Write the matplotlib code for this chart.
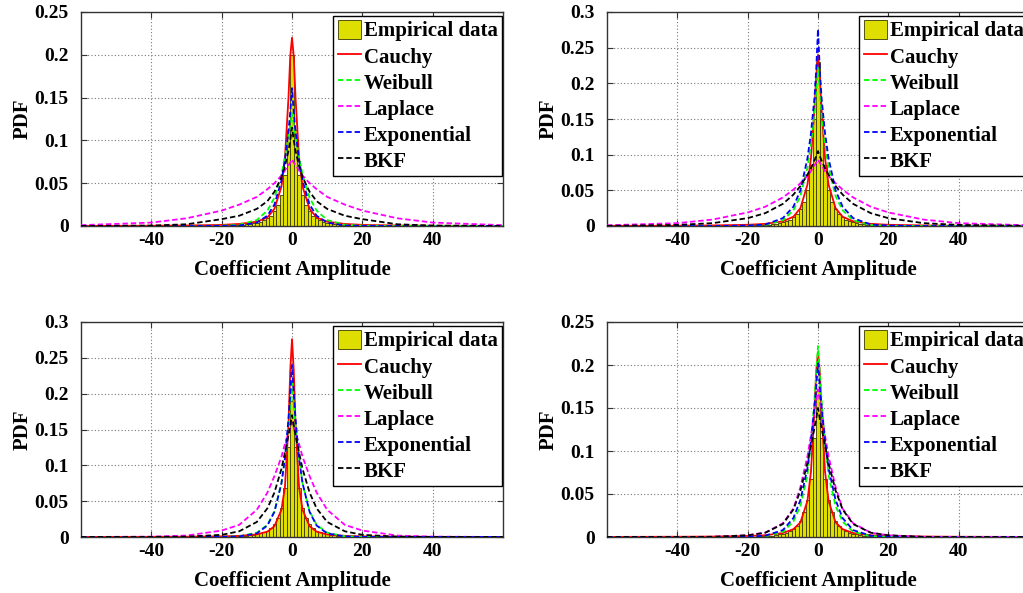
import matplotlib
matplotlib.use("Agg")
import matplotlib.pyplot as plt

plt.rcParams['font.family'] = ['Liberation Serif', 'DejaVu Serif']
plt.rcParams['font.weight'] = 'bold'
plt.rcParams['axes.unicode_minus'] = False

# ---------------- data ----------------
X = [-60, -40, -30, -20, -15, -10, -7, -5, -3, -2, -1, -0.5, 0,
     0.5, 1, 2, 3, 5, 7, 10, 15, 20, 30, 40, 60]
HIST_X = [-20, -19, -18, -17, -16, -15, -14, -13, -12, -11, -10, -9, -8, -7, -6, -5, -4, -3, -2, -1, 0,
          1, 2, 3, 4, 5, 6, 7, 8, 9, 10, 11, 12, 13, 14, 15, 16, 17, 18, 19, 20]

# top-left panel
tl_hist = [0.0005, 0.0006, 0.0007, 0.0008, 0.001, 0.0012, 0.0015, 0.002, 0.0025, 0.003, 0.004, 0.005, 0.007, 0.009, 0.012, 0.017, 0.024, 0.036, 0.060, 0.112, 0.200,
           0.112, 0.060, 0.036, 0.024, 0.017, 0.012, 0.009, 0.007, 0.005, 0.004, 0.003, 0.0025, 0.002, 0.0015, 0.0012, 0.001, 0.0008, 0.0007, 0.0006, 0.0005]
tl_cauchy = [0.0001, 0.0003, 0.0006, 0.0013, 0.0024, 0.005, 0.010, 0.020, 0.046, 0.080, 0.150, 0.198, 0.220,
             0.198, 0.150, 0.080, 0.046, 0.020, 0.010, 0.005, 0.0024, 0.0013, 0.0006, 0.0003, 0.0001]
tl_weibull = [0.0, 0.0, 0.0001, 0.0004, 0.0015, 0.007, 0.018, 0.033, 0.060, 0.081, 0.104, 0.118, 0.132,
              0.118, 0.104, 0.081, 0.060, 0.033, 0.018, 0.007, 0.0015, 0.0004, 0.0001, 0.0, 0.0]
tl_laplace = [0.001, 0.004, 0.009, 0.018, 0.025, 0.034, 0.043, 0.050, 0.059, 0.065, 0.071, 0.074, 0.078,
              0.074, 0.071, 0.065, 0.059, 0.050, 0.043, 0.034, 0.025, 0.018, 0.009, 0.004, 0.001]
tl_expo = [0.0, 0.0, 0.0, 0.0001, 0.0006, 0.004, 0.012, 0.025, 0.053, 0.077, 0.111, 0.133, 0.161,
           0.133, 0.111, 0.077, 0.053, 0.025, 0.012, 0.004, 0.0006, 0.0001, 0.0, 0.0, 0.0]
tl_bkf = [0.0, 0.0005, 0.002, 0.008, 0.012, 0.020, 0.029, 0.040, 0.057, 0.070, 0.088, 0.100, 0.115,
          0.100, 0.088, 0.070, 0.057, 0.040, 0.029, 0.020, 0.012, 0.008, 0.002, 0.0005, 0.0]

# top-right panel
tr_hist = [0.0005, 0.0006, 0.0008, 0.001, 0.0012, 0.0015, 0.002, 0.0025, 0.003, 0.004, 0.005, 0.007, 0.009, 0.012, 0.017, 0.024, 0.034, 0.050, 0.085, 0.150, 0.230,
           0.150, 0.085, 0.050, 0.034, 0.024, 0.017, 0.012, 0.009, 0.007, 0.005, 0.004, 0.003, 0.0025, 0.002, 0.0015, 0.0012, 0.001, 0.0008, 0.0006, 0.0005]
tr_cauchy = [0.0002, 0.0004, 0.0008, 0.0017, 0.003, 0.0065, 0.013, 0.025, 0.058, 0.095, 0.165, 0.210, 0.240,
             0.210, 0.165, 0.095, 0.058, 0.025, 0.013, 0.0065, 0.003, 0.0017, 0.0008, 0.0004, 0.0002]
tr_weibull = [0.0, 0.0, 0.0001, 0.0003, 0.0015, 0.008, 0.022, 0.042, 0.082, 0.115, 0.160, 0.190, 0.222,
              0.190, 0.160, 0.115, 0.082, 0.042, 0.022, 0.008, 0.0015, 0.0003, 0.0001, 0.0, 0.0]
tr_laplace = [0.001, 0.004, 0.009, 0.019, 0.027, 0.040, 0.051, 0.060, 0.070, 0.077, 0.085, 0.089, 0.093,
              0.089, 0.085, 0.077, 0.070, 0.060, 0.051, 0.040, 0.027, 0.019, 0.009, 0.004, 0.001]
tr_expo = [0.0, 0.0, 0.0, 0.0005, 0.002, 0.011, 0.027, 0.050, 0.095, 0.130, 0.180, 0.220, 0.276,
           0.220, 0.180, 0.130, 0.095, 0.050, 0.027, 0.011, 0.002, 0.0005, 0.0, 0.0, 0.0]
tr_bkf = [0.0002, 0.0015, 0.004, 0.011, 0.018, 0.031, 0.044, 0.056, 0.072, 0.081, 0.092, 0.098, 0.105,
          0.098, 0.092, 0.081, 0.072, 0.056, 0.044, 0.031, 0.018, 0.011, 0.004, 0.0015, 0.0002]

# bottom-left panel
bl_hist = [0.0004, 0.0005, 0.0006, 0.0008, 0.001, 0.0012, 0.0015, 0.002, 0.0025, 0.003, 0.004, 0.005, 0.007, 0.009, 0.013, 0.018, 0.026, 0.040, 0.068, 0.125, 0.190,
           0.125, 0.068, 0.040, 0.026, 0.018, 0.013, 0.009, 0.007, 0.005, 0.004, 0.003, 0.0025, 0.002, 0.0015, 0.0012, 0.001, 0.0008, 0.0006, 0.0005, 0.0004]
bl_cauchy = [0.0001, 0.0002, 0.0004, 0.0009, 0.0016, 0.0036, 0.0075, 0.015, 0.038, 0.070, 0.157, 0.232, 0.276,
             0.232, 0.157, 0.070, 0.038, 0.015, 0.0075, 0.0036, 0.0016, 0.0009, 0.0004, 0.0002, 0.0001]
bl_weibull = [0.0, 0.0, 0.0, 0.0002, 0.001, 0.006, 0.017, 0.036, 0.075, 0.110, 0.155, 0.185, 0.215,
              0.185, 0.155, 0.110, 0.075, 0.036, 0.017, 0.006, 0.001, 0.0002, 0.0, 0.0, 0.0]
bl_laplace = [0.0, 0.0005, 0.002, 0.009, 0.017, 0.038, 0.062, 0.085, 0.112, 0.130, 0.145, 0.152, 0.160,
              0.152, 0.145, 0.130, 0.112, 0.085, 0.062, 0.038, 0.017, 0.009, 0.002, 0.0005, 0.0]
bl_expo = [0.0, 0.0, 0.0, 0.0001, 0.0008, 0.005, 0.016, 0.035, 0.075, 0.110, 0.165, 0.200, 0.240,
           0.200, 0.165, 0.110, 0.075, 0.035, 0.016, 0.005, 0.0008, 0.0001, 0.0, 0.0, 0.0]
bl_bkf = [0.0, 0.0001, 0.0005, 0.003, 0.008, 0.021, 0.040, 0.062, 0.095, 0.118, 0.142, 0.155, 0.170,
          0.155, 0.142, 0.118, 0.095, 0.062, 0.040, 0.021, 0.008, 0.003, 0.0005, 0.0001, 0.0]

# bottom-right panel
br_hist = [0.0003, 0.0004, 0.0005, 0.0006, 0.0008, 0.001, 0.0013, 0.0017, 0.0022, 0.003, 0.004, 0.005, 0.007, 0.009, 0.013, 0.019, 0.029, 0.043, 0.068, 0.115, 0.170,
           0.115, 0.068, 0.043, 0.029, 0.019, 0.013, 0.009, 0.007, 0.005, 0.004, 0.003, 0.0022, 0.0017, 0.0013, 0.001, 0.0008, 0.0006, 0.0005, 0.0004, 0.0003]
br_cauchy = [0.0001, 0.0003, 0.0005, 0.0012, 0.002, 0.0046, 0.0091, 0.017, 0.042, 0.076, 0.148, 0.193, 0.215,
             0.193, 0.148, 0.076, 0.042, 0.017, 0.0091, 0.0046, 0.002, 0.0012, 0.0005, 0.0003, 0.0001]
br_weibull = [0.0, 0.0, 0.0, 0.0002, 0.001, 0.006, 0.018, 0.036, 0.072, 0.110, 0.160, 0.190, 0.222,
              0.190, 0.160, 0.110, 0.072, 0.036, 0.018, 0.006, 0.001, 0.0002, 0.0, 0.0, 0.0]
br_laplace = [0.0, 0.0, 0.0002, 0.002, 0.005, 0.016, 0.033, 0.058, 0.094, 0.118, 0.145, 0.158, 0.172,
              0.158, 0.145, 0.118, 0.094, 0.058, 0.033, 0.016, 0.005, 0.002, 0.0002, 0.0, 0.0]
br_expo = [0.0, 0.0, 0.0, 0.0003, 0.0015, 0.008, 0.022, 0.043, 0.080, 0.112, 0.152, 0.175, 0.202,
           0.175, 0.152, 0.112, 0.080, 0.043, 0.022, 0.008, 0.0015, 0.0003, 0.0, 0.0, 0.0]
br_bkf = [0.0, 0.0, 0.0002, 0.002, 0.005, 0.015, 0.032, 0.054, 0.086, 0.106, 0.127, 0.138, 0.150,
          0.138, 0.127, 0.106, 0.086, 0.054, 0.032, 0.015, 0.005, 0.002, 0.0002, 0.0, 0.0]

X_TICKS = [-40, -20, 0, 20, 40]
TL_YTICKS = [0, 0.05, 0.1, 0.15, 0.2, 0.25]
TR_YTICKS = [0, 0.05, 0.1, 0.15, 0.2, 0.25, 0.3]
LABELS = ['Empirical data', 'Cauchy', 'Weibull', 'Laplace', 'Exponential', 'BKF']

panels = [
    dict(rect=(81, 12, 422, 214), hist=tl_hist, curves=[tl_cauchy, tl_weibull, tl_laplace, tl_expo, tl_bkf], ymax=0.25, yticks=TL_YTICKS),
    dict(rect=(607, 12, 422, 214), hist=tr_hist, curves=[tr_cauchy, tr_weibull, tr_laplace, tr_expo, tr_bkf], ymax=0.3, yticks=TR_YTICKS),
    dict(rect=(81, 322, 422, 215), hist=bl_hist, curves=[bl_cauchy, bl_weibull, bl_laplace, bl_expo, bl_bkf], ymax=0.3, yticks=TR_YTICKS),
    dict(rect=(607, 322, 422, 215), hist=br_hist, curves=[br_cauchy, br_weibull, br_laplace, br_expo, br_bkf], ymax=0.25, yticks=TL_YTICKS),
]

W, H = 1023, 593
fig = plt.figure(figsize=(W / 100, H / 100), dpi=100)

colors = ['#ff0000', '#00ff00', '#ff00ff', '#0000ff', '#000000']
styles = ['-', '--', '--', '--', '--']

for p in panels:
    x0, y0, w, h = p['rect']
    ax = fig.add_axes([x0 / W, 1 - (y0 + h) / H, w / W, h / H])
    handles = []
    bars = ax.bar(HIST_X, p['hist'], width=1.0, color='#dede00', edgecolor='#3a3a00', linewidth=0.6, zorder=2)
    handles.append(bars)
    for vals, c, ls in zip(p['curves'], colors, styles):
        ln, = ax.plot(X, vals, color=c, linestyle=ls, linewidth=1.3, zorder=3)
        if ls == '--':
            ln.set_dashes((3.0, 1.6))
        handles.append(ln)
    ax.set_xlim(-60, 60)
    ax.set_ylim(0, p['ymax'])
    ax.set_xticks(X_TICKS)
    ax.set_yticks(p['yticks'])
    ax.set_yticklabels([('%g' % t) for t in p['yticks']])
    ax.grid(True, linestyle=(0, (1, 2)), color='#777777', linewidth=0.8)
    ax.set_axisbelow(True)
    ax.tick_params(direction='in', length=4, width=0.8, top=True, right=True, labelsize=14,
                   colors='#333333', labelcolor='black')
    ax.tick_params(axis='x', pad=4)
    ax.tick_params(axis='y', pad=9)
    for lab in ax.get_xticklabels() + ax.get_yticklabels():
        lab.set_fontweight('bold')
    for s in ax.spines.values():
        s.set_color('#333333')
        s.set_linewidth(1.0)
    ax.set_xlabel('Coefficient Amplitude', fontsize=15, fontweight='bold', labelpad=8.5)
    ax.set_ylabel('PDF', fontsize=15, fontweight='bold', labelpad=1.5)
    leg = ax.legend(handles, LABELS, loc='upper right', bbox_to_anchor=(0.997, 0.982), borderaxespad=0,
                    prop={'weight': 'bold', 'size': 15}, frameon=True, fancybox=False,
                    framealpha=1, edgecolor='black', handlelength=1.1, handleheight=1.0,
                    handletextpad=0.15, labelspacing=0.22, borderpad=0.2)
    leg.get_frame().set_linewidth(1.0)

fig.savefig('out.png', dpi=100)
